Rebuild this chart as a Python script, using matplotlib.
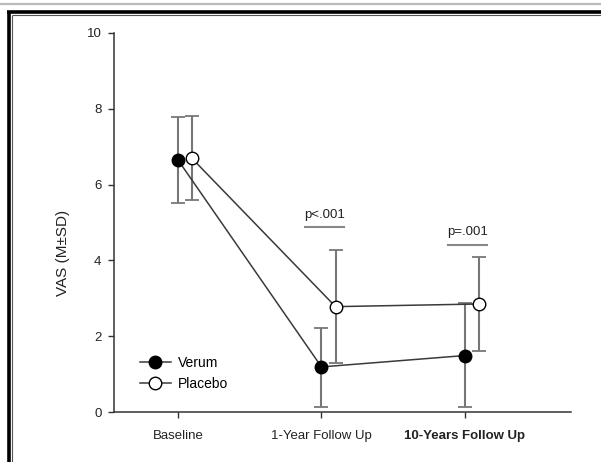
import matplotlib
matplotlib.use("Agg")
import matplotlib.pyplot as plt
from matplotlib.lines import Line2D
import numpy as np

plt.rcParams['font.family'] = ['Liberation Sans', 'DejaVu Sans']

categories = ["Baseline", "1-Year Follow Up", "10-Years Follow Up"]
verum_mean = [6.65, 1.19, 1.49]
verum_sd_up = [7.79, 2.21, 2.88]
verum_sd_lo = [5.52, 0.14, 0.14]
placebo_mean = [6.69, 2.78, 2.85]
placebo_sd_up = [7.81, 4.27, 4.10]
placebo_sd_lo = [5.59, 1.28, 1.61]
p_labels = ["p<.001", "p=.001"]
p_positions = [1, 2]
p_heights = [4.87, 4.41]
yticks = [0, 2, 4, 6, 8, 10]

fig = plt.figure(figsize=(6.01, 4.62), dpi=100)
ax = fig.add_axes([0.1897, 0.1082, 0.7603, 0.8204])

x = np.arange(len(categories))
off = 0.098

vm = np.array(verum_mean)
pm = np.array(placebo_mean)
ax.errorbar(x, vm, yerr=[vm - np.array(verum_sd_lo), np.array(verum_sd_up) - vm],
            fmt='none', ecolor='#777777', elinewidth=1.5, capsize=5, capthick=1.3, zorder=2)
ax.errorbar(x + off, pm, yerr=[pm - np.array(placebo_sd_lo), np.array(placebo_sd_up) - pm],
            fmt='none', ecolor='#777777', elinewidth=1.5, capsize=5, capthick=1.3, zorder=2)
ax.plot(x, vm, '-o', color='#3a3a3a', lw=1.1, marker='o', markersize=9,
        markerfacecolor='black', markeredgecolor='black', markeredgewidth=1,
        label='Verum', zorder=3)
ax.plot(x + off, pm, '-o', color='#3a3a3a', lw=1.1, marker='o', markersize=9,
        markerfacecolor='white', markeredgecolor='black', markeredgewidth=1,
        label='Placebo', zorder=3)

for lab, px, h in zip(p_labels, p_positions, p_heights):
    cx = px + 0.02
    ax.plot([cx - 0.135, cx + 0.135], [h, h], color='#888888', lw=1.5)
    ax.text(cx, h + 0.18, lab, ha='center', va='bottom', fontsize=9.5, color='#222222')

ax.set_xlim(-0.446, 2.739)
ax.set_ylim(0, 10)
ax.set_xticks(x)
ax.set_xticklabels(categories, fontsize=9.5, color='#222222')
ax.get_xticklabels()[2].set_fontweight('bold')
ax.set_yticks(yticks)
ax.set_yticklabels([str(v) for v in yticks], fontsize=9.5, color='#222222')
ax.set_ylabel("VAS (M±SD)", fontsize=11, color='#222222')
ax.yaxis.set_label_coords(-0.096, 0.42)
for s in ['top', 'right']:
    ax.spines[s].set_visible(False)
for s in ['left', 'bottom']:
    ax.spines[s].set_color('#333333')
    ax.spines[s].set_linewidth(1.1)
ax.tick_params(axis='both', direction='out', length=4, width=1, color='#333333', pad=5)
ax.tick_params(axis='x', pad=9)

leg = ax.legend(loc='lower left', bbox_to_anchor=(0.03, 0.022), frameon=False,
                fontsize=10, handlelength=2.2, handletextpad=0.5, labelspacing=0.55)

# page frame decoration
W, H = 601, 462
def fl(x0, y0, x1, y1, c, lw):
    fig.add_artist(Line2D([x0 / W, x1 / W], [1 - y0 / H, 1 - y1 / H],
                          transform=fig.transFigure, color=c, lw=lw, solid_capstyle='butt'))
fl(0, 3.5, W, 3.5, '#bbbbbb', 1.6)
fl(7, 11.8, W, 11.8, 'black', 2.6)
fl(12, 15, W, 15, '#555555', 0.8)
fl(8.5, 10.5, 8.5, H, 'black', 2.6)
fl(12, 15, 12, H, '#555555', 0.8)

fig.savefig("out.png", dpi=100)
